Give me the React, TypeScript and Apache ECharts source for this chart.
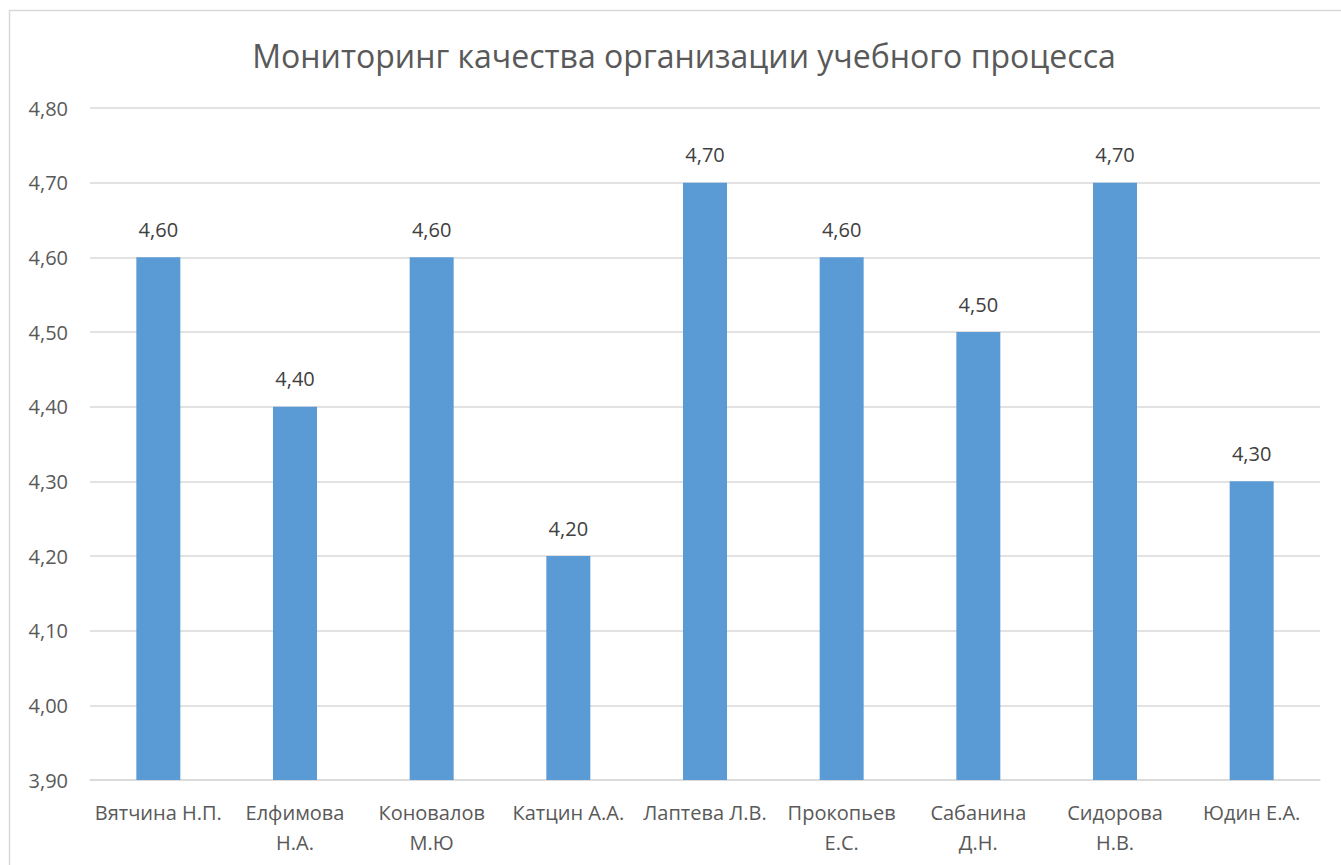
import React, { useEffect, useRef } from "react";
import * as echarts from "echarts";

const titleText = "Мониторинг качества организации учебного процесса";
const categories = [
  "Вятчина Н.П.",
  "Елфимова Н.А.",
  "Коновалов М.Ю",
  "Катцин А.А.",
  "Лаптева Л.В.",
  "Прокопьев Е.С.",
  "Сабанина Д.Н.",
  "Сидорова Н.В.",
  "Юдин Е.А.",
];
const wrapped = [false, true, true, false, false, true, true, true, false];
const values = [4.6, 4.4, 4.6, 4.2, 4.7, 4.6, 4.5, 4.7, 4.3];
const yMin = 3.9;
const yMax = 4.8;
const yInterval = 0.1;

const FONT = "'Open Sans', 'Noto Sans', sans-serif";

export default function App() {
  const ref = useRef<HTMLDivElement>(null);
  useEffect(() => {
    if (!ref.current) return;
    const chart = echarts.init(ref.current, undefined, { renderer: "svg" });
    chart.setOption({
      animation: false,
      backgroundColor: "#ffffff",
      textStyle: { fontFamily: FONT },
      title: {
        text: titleText,
        left: 679,
        textAlign: "center",
        top: 34,
        textStyle: {
          fontFamily: FONT,
          fontSize: 32,
          fontWeight: "normal",
          color: "#595959",
        },
      },
      graphic: [
        {
          type: "rect",
          shape: { x: 9.5, y: 10.5, width: 1400, height: 900 },
          style: { fill: "none", stroke: "#d9d9d9", lineWidth: 1.5 },
          silent: true,
        },
      ],
      grid: { left: 90, right: 21, top: 108, bottom: 85, containLabel: false },
      xAxis: {
        type: "category",
        data: categories,
        axisLine: { lineStyle: { color: "#d9d9d9", width: 1.5 } },
        axisTick: { show: false },
        axisLabel: {
          interval: 0,
          color: "#595959",
          fontSize: 20,
          fontFamily: FONT,
          lineHeight: 30,
          margin: 17,
          formatter: (v: string) => {
            const i = categories.indexOf(v);
            if (wrapped[i]) {
              const p = v.lastIndexOf(" ");
              return v.slice(0, p) + "\n" + v.slice(p + 1);
            }
            return v;
          },
        },
      },
      yAxis: {
        type: "value",
        min: yMin,
        max: yMax,
        interval: yInterval,
        axisLine: { show: false },
        axisTick: { show: false },
        splitLine: { lineStyle: { color: "#d9d9d9", width: 1.5 } },
        axisLabel: {
          color: "#595959",
          fontSize: 20,
          fontFamily: FONT,
          margin: 22,
          formatter: (v: number) => v.toFixed(2).replace(".", ","),
        },
      },
      series: [
        {
          type: "bar",
          data: values,
          barWidth: 44,
          itemStyle: { color: "#5b9bd5" },
          label: {
            show: true,
            position: "top",
            distance: 18,
            color: "#404040",
            fontSize: 20,
            fontFamily: FONT,
            formatter: (p: any) => Number(p.value).toFixed(2).replace(".", ","),
          },
        },
      ],
    });
    return () => chart.dispose();
  }, []);
  return (
    <div
      ref={ref}
      style={{ position: "fixed", left: 0, top: 0, width: 1341, height: 865 }}
    />
  );
}
